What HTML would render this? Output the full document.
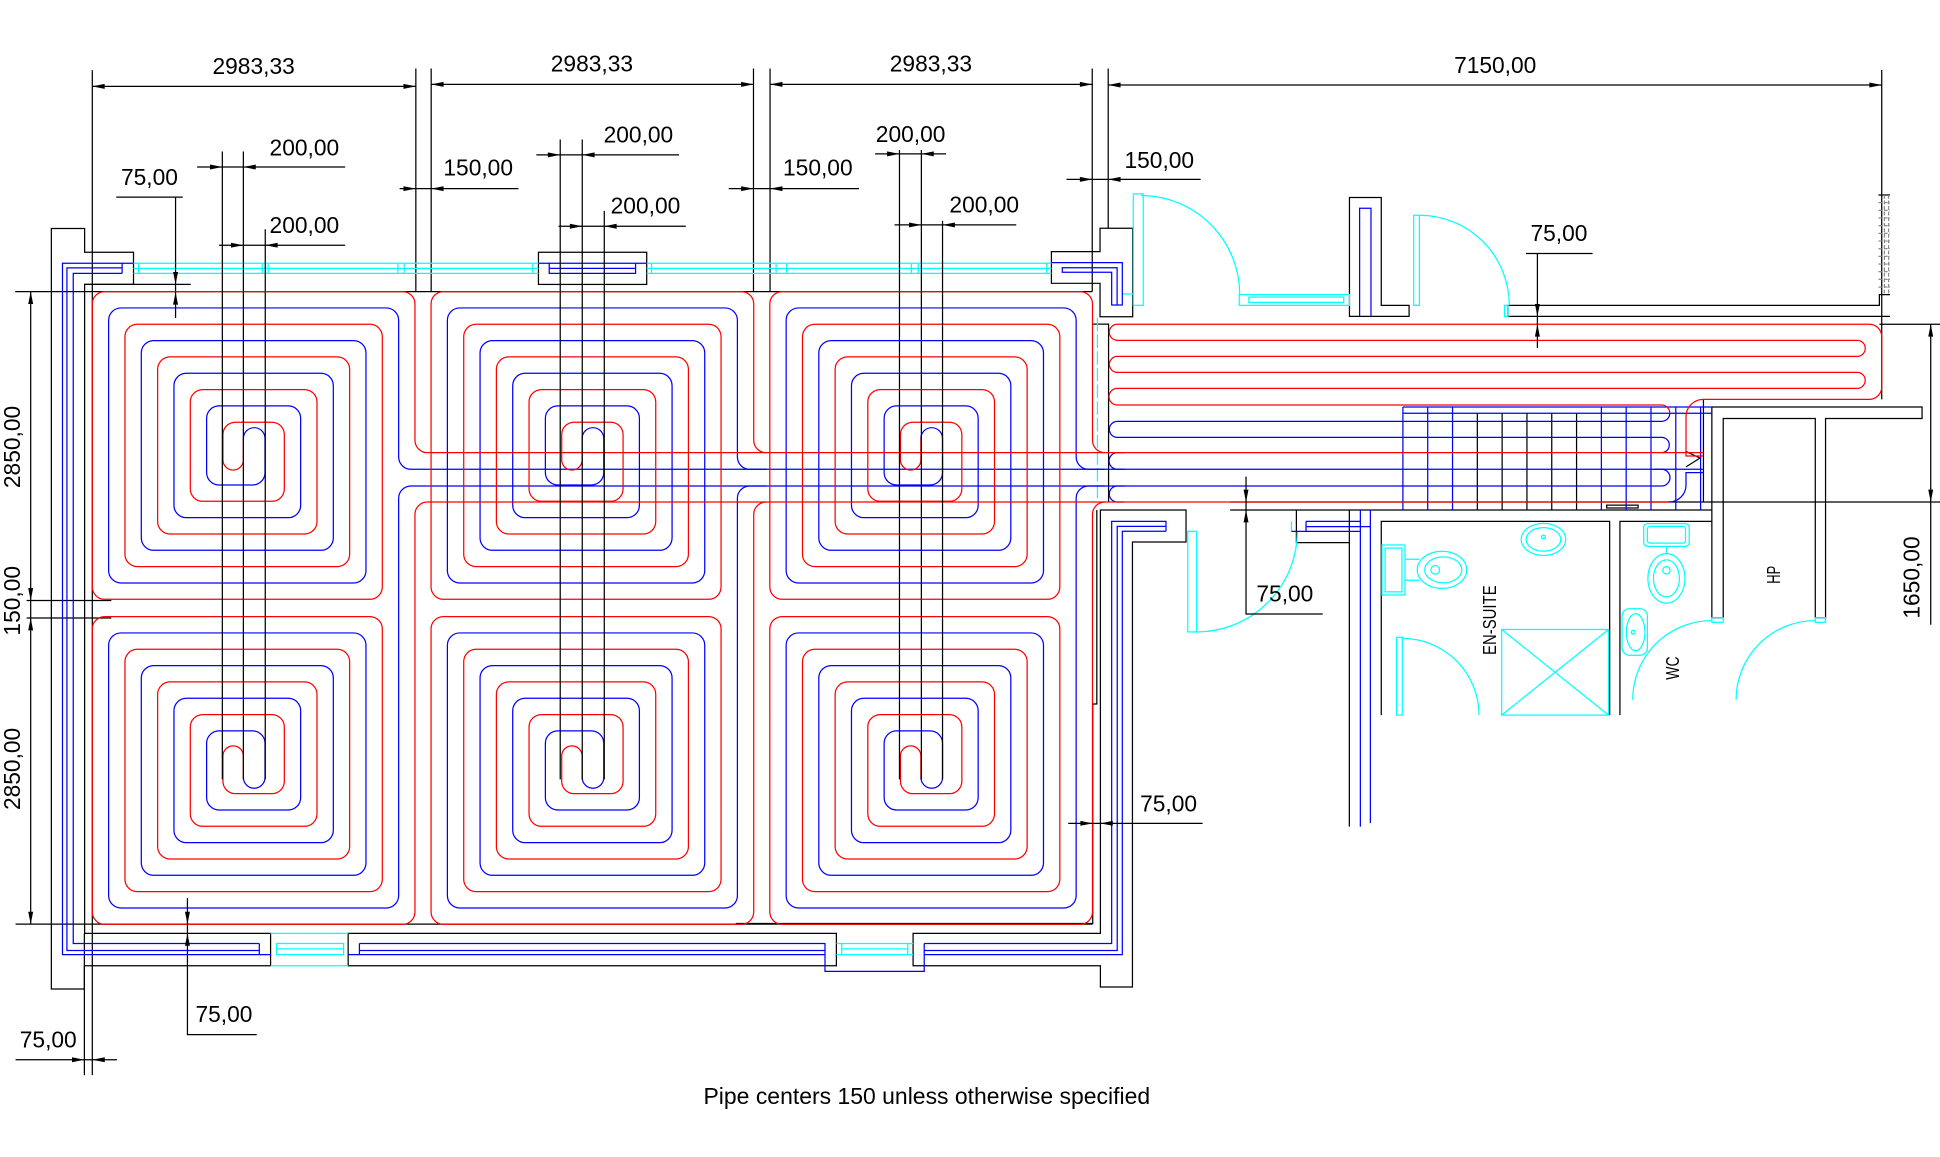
<!DOCTYPE html>
<html><head><meta charset="utf-8"><style>
html,body{margin:0;padding:0;background:#fff;overflow:hidden}
svg{display:block}
text{font-family:"Liberation Sans",Arial,sans-serif;fill:#000}
</style></head><body>
<svg width="1940" height="1157" viewBox="0 0 1568 935.2" preserveAspectRatio="none" xmlns="http://www.w3.org/2000/svg">
<defs>
<path id="tr" d="M270.8 130.2 A10 10 0 0 1 260.8 120.2 L260.8 10 A10 10 0 0 0 250.8 0 L10 0 A10 10 0 0 0 0 10 L0 238.7 A10 10 0 0 0 10 248.7 L224.4 248.7 A10 10 0 0 0 234.4 238.7 L234.4 36.4 A10 10 0 0 0 224.4 26.4 L36.4 26.4 A10 10 0 0 0 26.4 36.4 L26.4 212.3 A10 10 0 0 0 36.4 222.3 L198 222.3 A10 10 0 0 0 208 212.3 L208 62.8 A10 10 0 0 0 198 52.8 L62.8 52.8 A10 10 0 0 0 52.8 62.8 L52.8 185.9 A10 10 0 0 0 62.8 195.9 L171.6 195.9 A10 10 0 0 0 181.6 185.9 L181.6 89.2 A10 10 0 0 0 171.6 79.2 L89.2 79.2 A10 10 0 0 0 79.2 89.2 L79.2 159.5 A10 10 0 0 0 89.2 169.5 L145.2 169.5 A10 10 0 0 0 155.2 159.5 L155.2 115.6 A10 10 0 0 0 145.2 105.6 L115.6 105.6 A10 10 0 0 0 105.6 115.6 L105.6 136 A8.25 8.25 0 0 0 122.1 136 L122.1 118.75"/>
<path id="tb" d="M122.1 118.75 A8.75 8.75 0 0 1 139.6 118.75 L139.6 146.3 A10 10 0 0 1 129.6 156.3 L102.4 156.3 A10 10 0 0 1 92.4 146.3 L92.4 102.4 A10 10 0 0 1 102.4 92.4 L158.4 92.4 A10 10 0 0 1 168.4 102.4 L168.4 172.7 A10 10 0 0 1 158.4 182.7 L76 182.7 A10 10 0 0 1 66 172.7 L66 76 A10 10 0 0 1 76 66 L184.8 66 A10 10 0 0 1 194.8 76 L194.8 199.1 A10 10 0 0 1 184.8 209.1 L49.6 209.1 A10 10 0 0 1 39.6 199.1 L39.6 49.6 A10 10 0 0 1 49.6 39.6 L211.2 39.6 A10 10 0 0 1 221.2 49.6 L221.2 225.5 A10 10 0 0 1 211.2 235.5 L23.2 235.5 A10 10 0 0 1 13.2 225.5 L13.2 23.2 A10 10 0 0 1 23.2 13.2 L237.6 13.2 A10 10 0 0 1 247.6 23.2 L247.6 133.6 A10 10 0 0 0 257.6 143.6 L270.8 143.6"/>
<path id="br" d="M270.8 -92.6 A10 10 0 0 0 260.8 -82.6 L260.8 238.7 A10 10 0 0 1 250.8 248.7 L10 248.7 A10 10 0 0 1 0 238.7 L0 10 A10 10 0 0 1 10 0 L224.4 0 A10 10 0 0 1 234.4 10 L234.4 212.3 A10 10 0 0 1 224.4 222.3 L36.4 222.3 A10 10 0 0 1 26.4 212.3 L26.4 36.4 A10 10 0 0 1 36.4 26.4 L198 26.4 A10 10 0 0 1 208 36.4 L208 185.9 A10 10 0 0 1 198 195.9 L62.8 195.9 A10 10 0 0 1 52.8 185.9 L52.8 62.8 A10 10 0 0 1 62.8 52.8 L171.6 52.8 A10 10 0 0 1 181.6 62.8 L181.6 159.5 A10 10 0 0 1 171.6 169.5 L89.2 169.5 A10 10 0 0 1 79.2 159.5 L79.2 89.2 A10 10 0 0 1 89.2 79.2 L145.2 79.2 A10 10 0 0 1 155.2 89.2 L155.2 133.1 A10 10 0 0 1 145.2 143.1 L115.6 143.1 A10 10 0 0 1 105.6 133.1 L105.6 112.7 A8.25 8.25 0 0 1 122.1 112.7 L122.1 129.95"/>
<path id="bb" d="M122.1 129.95 A8.75 8.75 0 0 0 139.6 129.95 L139.6 102.4 A10 10 0 0 0 129.6 92.4 L102.4 92.4 A10 10 0 0 0 92.4 102.4 L92.4 146.3 A10 10 0 0 0 102.4 156.3 L158.4 156.3 A10 10 0 0 0 168.4 146.3 L168.4 76 A10 10 0 0 0 158.4 66 L76 66 A10 10 0 0 0 66 76 L66 172.7 A10 10 0 0 0 76 182.7 L184.8 182.7 A10 10 0 0 0 194.8 172.7 L194.8 49.6 A10 10 0 0 0 184.8 39.6 L49.6 39.6 A10 10 0 0 0 39.6 49.6 L39.6 199.1 A10 10 0 0 0 49.6 209.1 L211.2 209.1 A10 10 0 0 0 221.2 199.1 L221.2 23.2 A10 10 0 0 0 211.2 13.2 L23.2 13.2 A10 10 0 0 0 13.2 23.2 L13.2 225.5 A10 10 0 0 0 23.2 235.5 L237.6 235.5 A10 10 0 0 0 247.6 225.5 L247.6 -95.6 A10 10 0 0 1 257.6 -105.6 L270.8 -105.6"/>
</defs>

<!-- extension lines (under pipes) -->
<g fill="none" stroke="#000" stroke-width="1">
<path d="M74.6 56.7 V869 M336.1 55.4 V235.7 M348.5 55.4 V235.7 M609 55.4 V235.7 M622.4 55.4 V235.7 M882.8 55.4 V235.7 M895.7 55.4 V184.5 M1520.9 56.6 V322.8"/>
<path d="M12.3 235.7 H882.9 M21.5 485.4 H90 M21.5 499.5 H90 M12.6 747 H883 M68.4 229.9 H154.2 M68.2 754.4 V869"/>
<path d="M994.3 405.8 H1568 M1519 262.1 H1568"/>
</g>

<!-- walls -->
<g fill="none" stroke="#000" stroke-width="1">
<path d="M41.5 799.4 V184.7 H68.4 V203.9 H107.9 V229.9 H68.4 V754.4 H218.7 V780.6 H68.2 V799.4 Z"/>
<rect x="435.2" y="203.9" width="87.5" height="26"/>
<path d="M281.4 754.4 H676 V780.6 H281.4 Z"/>
<path d="M738 780.6 V754.4 H889.4 V412.2 H958.6 V438.1 H915.3 V797.8 H889.4 V780.6 Z"/>
<path d="M849.8 203.4 H889.1 V184.5 H915.5 V256 H889.1 V229 H849.8 Z"/>
<path d="M882.9 262 H896 V406"/>
<path d="M886.5 412.2 V569 H883.2 V746.5 H594.7"/>
<path d="M1090.7 159.6 H1116.4 V246.8 H1138.9 V255.7 H1090.7 Z"/>
<path d="M1218.8 246.8 H1519 V238.1 H1527.6 M1218.8 246.8 V255.7 H1527.6"/>
<path d="M994.3 412.2 H1383.6"/>
<path d="M1047.8 412.2 V438.6 H1090.6 M1090.6 412.2 V668.2"/>
<path d="M1116.4 578 V421.4 H1301 V578 M1309.3 578 V421.4 H1383.6"/>
<path d="M1383.6 329 V499.3 H1392.8 V338.3 H1467.2 V499.3 H1475.5 V338.3 H1553.5 V329 H1383.6"/>
<path d="M1376.8 322.8 V406"/>
<rect x="1298.6" y="408.3" width="25.4" height="2.3"/>
<path d="M1362.7 364.9 L1374 370.3 L1362.7 377.4"/>
<path d="M1518.2 157.6 H1527.6"/>
</g>
<g fill="none" stroke="#808080" stroke-width="0.9" stroke-dasharray="3 1.5">
<path d="M1523 157.6 V237.6 M1526.5 157.6 V237.6"/>
<path d="M1518.2 163.8 H1527.6 M1518.2 170 H1527.6 M1518.2 176.2 H1527.6 M1518.2 182.4 H1527.6 M1518.2 188.6 H1527.6 M1518.2 194.8 H1527.6 M1518.2 201 H1527.6 M1518.2 207.2 H1527.6 M1518.2 213.4 H1527.6 M1518.2 219.6 H1527.6 M1518.2 225.8 H1527.6 M1518.2 232 H1527.6"/>
</g>

<!-- cyan architecture -->
<g fill="none" stroke="#00ffff" stroke-width="1">
<path d="M107.9 212.8 H435.2 M107.9 221 H435.2 M107.9 216.9 H435.2 M522.7 212.8 H849.8 M522.7 221 H849.8 M522.7 216.9 H849.8"/>
<path d="M112 212.8 V221 M212 212.8 V221 M216.7 212.8 V221 M321.6 212.8 V221 M326.7 212.8 V221 M430.6 212.8 V221 M526.6 212.8 V221 M627.3 212.8 V221 M635.8 212.8 V221 M736.6 212.8 V221 M742.2 212.8 V221 M846 212.8 V221"/>
<path d="M218.7 754.4 H281.4 M218.7 780.6 H281.4 M223.5 767 H277.7"/>
<rect x="223.5" y="762.6" width="54.2" height="9"/>
<path d="M676 762.6 H738 M676 771.6 H738 M680.3 767 H733.7 M680.3 762.6 V771.6 M733.7 762.6 V771.6"/>
<rect x="916" y="156.7" width="8" height="90.1"/>
<path d="M907.1 237.6 H916"/>
<path d="M922 158 A80 80 0 0 1 1002 238"/>
<rect x="1001.6" y="238.1" width="89.1" height="8.7"/>
<rect x="1009.4" y="240.1" width="76.7" height="4.3"/>
<rect x="1142.6" y="174" width="4.6" height="72.8"/>
<path d="M1147.2 174 A72.7 72.7 0 0 1 1219.9 246.7"/>
<rect x="1216" y="246.8" width="2.8" height="8.9"/>
<rect x="960" y="429.4" width="7.2" height="81.4"/>
<path d="M967.2 510.8 A81.4 81.4 0 0 0 1048.6 429.4"/>
<path d="M1043.8 421.4 V429.5"/>
<path d="M887 256.9 V403" stroke-dasharray="10.8 2.7"/>
<rect x="1117" y="440.5" width="18.6" height="40.4"/>
<rect x="1119.5" y="443" width="13.6" height="35.4"/>
<path d="M1135.6 452 H1147 M1135.6 469 H1147"/>
<ellipse cx="1165.5" cy="460.6" rx="20" ry="15"/>
<ellipse cx="1166.5" cy="460.6" rx="15" ry="10.5"/>
<circle cx="1160" cy="460.6" r="3.5"/>
<ellipse cx="1247.5" cy="436" rx="18" ry="13"/>
<ellipse cx="1247.5" cy="436" rx="14" ry="9.5"/>
<circle cx="1247.5" cy="434" r="1.5"/>
<rect x="1213.7" y="508.8" width="86.4" height="69.2"/>
<path d="M1213.7 508.8 L1300.1 578 M1300.1 508.8 L1213.7 578"/>
<rect x="1128.8" y="515.1" width="4.6" height="62.9"/>
<path d="M1133.4 516 A62 62 0 0 1 1195.4 578"/>
<rect x="1328.5" y="423.2" width="36.8" height="18.4" rx="3"/>
<rect x="1331.5" y="425.5" width="30.8" height="13.5" rx="2"/>
<path d="M1346.9 441.6 V447.5"/>
<ellipse cx="1346.9" cy="467.5" rx="15" ry="20"/>
<ellipse cx="1346.9" cy="467.5" rx="10.5" ry="15"/>
<circle cx="1346.9" cy="461" r="3"/>
<rect x="1311" y="492" width="20.5" height="37.6" rx="6"/>
<ellipse cx="1322" cy="511" rx="7.5" ry="15"/>
<circle cx="1320" cy="511" r="1.5"/>
<path d="M1319.6 565.6 A64 64 0 0 1 1383.6 501.6"/>
<rect x="1383.6" y="499.3" width="9.2" height="3.7"/>
<path d="M1403.2 565.6 A64 64 0 0 1 1467.2 501.6"/>
<rect x="1467.2" y="499.3" width="8.3" height="3.7"/>
</g>

<!-- blue wall pipes -->
<g fill="none" stroke="#0000ff" stroke-width="1">
<path d="M107.9 212.8 H50.5 V771.6 H218.7 M98.7 216.5 H54.1 V768.3 H209.6 M98.7 221 H59.2 V762.6 H209.6 M98.7 212.8 V221 M209.6 762.6 V771.6"/>
<path d="M281.4 771.6 H666.8 V785.2 H747 V771.6 H907.1 V429.4 H942.4 M290.5 768.3 H666.8 M747 768.3 H903 V425.5 H942.4 M290.5 762.6 H666.8 V771.6 M747 762.6 H898.5 V421.4 H942.4 V429.4 M290.5 762.6 V771.6 M747 762.6 V771.6"/>
<path d="M850 212.3 H907.1 V246.5 H898.5 V220.1 H858.6 V216.4 H902.9 V246.5"/>
<path d="M435.2 212.8 H522.7 M443.9 212.8 V221 H513.7 V212.8 M443.9 216.9 H513.7"/>
<path d="M1098.9 255.7 V168.3 H1108.1 V255.7"/>
<path d="M1055.6 421.4 H1099.5 M1055.6 425.7 H1107.6 M1043.8 429.5 H1099.5 M1055.6 421.4 V429.5 M1099.5 412.2 V668.2 M1107.6 412.2 V665.3"/>
<path d="M1133.9 329 H1383.6 M1133.9 334 H1383.6"/>
<path d="M1133.9 329 V412.2 M1153.95 329 V412.2 M1174 329 V412.2 M1294.3 329 V412.2 M1314.35 329 V412.2 M1334.4 329 V412.2 M1354.45 329 V412.2 M1374.5 329 V412.2"/>
</g>
<g fill="none" stroke="#000" stroke-width="1">
<path d="M1194.05 334 V412.2 M1214.1 334 V412.2 M1234.15 334 V412.2 M1254.2 334 V412.2 M1274.25 334 V412.2"/>
</g>

<!-- heating circuits -->
<g fill="none" stroke-width="1">
<g stroke="#0000ff">
<use href="#tb" transform="translate(74.6,235.7)"/>
<use href="#tb" transform="translate(348.4,235.7)"/>
<use href="#tb" transform="translate(622.2,235.7)"/>
<use href="#bb" transform="translate(74.6,498.4)"/>
<use href="#bb" transform="translate(348.4,498.4)"/>
<use href="#bb" transform="translate(622.2,498.4)"/>
<path d="M345.4 379.3 H1376.8 M345.4 392.8 H1343"/>
<path d="M1376.8 382 H1362.7 V392 A13.8 13.8 0 0 1 1348.9 405.8"/>
<path d="M1349.6 334 A6.6 6.6 0 0 1 1343 340.6 H903.1 A6.45 6.45 0 0 0 903.1 353.5 H1343 A6.2 6.2 0 0 1 1343 365.9"/>
<path d="M909 365.9 H903.1 A6.7 6.7 0 0 0 903.1 379.3 H909 M1337 379.3 H1343 A6.75 6.75 0 0 1 1343 392.8 M909 392.8 H903.1 A6.5 6.5 0 0 0 903.1 405.8 H909"/>
</g>
<g stroke="#ff0000">
<use href="#tr" transform="translate(74.6,235.7)"/>
<use href="#tr" transform="translate(348.4,235.7)"/>
<use href="#tr" transform="translate(622.2,235.7)"/>
<use href="#br" transform="translate(74.6,498.4)"/>
<use href="#br" transform="translate(348.4,498.4)"/>
<use href="#br" transform="translate(622.2,498.4)"/>
<path d="M345.4 365.9 H1376.8 M345.4 405.8 H1348.7"/>
<path d="M1376.8 368.6 H1362.7 V336.8 A14 14 0 0 1 1376.7 322.8 H1510.9 A10 10 0 0 0 1520.9 312.8 V272.1 A10 10 0 0 0 1510.9 262.1 H903.1 A6.5 6.5 0 0 0 903.1 275.1 H1501.1 A6.5 6.5 0 0 1 1501.1 288.1 H903.1 A6.45 6.45 0 0 0 903.1 301 H1501.1 A6.45 6.45 0 0 1 1501.1 313.9 H903.1 A6.75 6.75 0 0 0 903.1 327.4 H1343 A6.6 6.6 0 0 1 1349.6 334"/>
</g>
</g>

<!-- dimension lines -->
<g fill="none" stroke="#000" stroke-width="1">
<path d="M74.6 69.8 H336.1 M348.5 68.2 H609 M622.4 68.2 H882.8 M895.7 68.7 H1520.9"/>
<path d="M323 152.5 H419 M589 152.5 H694.3 M862 145 H970.4"/>
<path d="M159.3 135 H279 M177 198.2 H279 M433.5 125.2 H548.8 M451.4 182.9 H554.3 M707.3 124.4 H764.6 M723 181.8 H821.4"/>
<path d="M179.7 122.5 V630 M196.7 122.5 V630 M214.4 185.3 V630 M452.8 112.8 V630 M470.6 112.8 V630 M488.4 170.5 V630 M727 121.2 V630 M744.7 121.2 V630 M761.8 178.5 V630"/>
<path d="M94 159.3 H147.7 M141.9 159.3 V257"/>
<path d="M24.8 235.7 V747"/>
<path d="M151.5 726 V836.3 H207.5"/>
<path d="M12.6 856.6 H94.5"/>
<path d="M863.4 665.5 H972"/>
<path d="M1007.1 385.3 V496.3 H1069.1"/>
<path d="M1233.4 204.9 H1287.2 M1242.6 204.9 V281.3"/>
<path d="M1560.5 262.1 V505"/>
</g>
<g fill="#000" stroke="none">
<polygon points="74.6,69.8 84.6,67.8 84.6,71.8"/><polygon points="336.1,69.8 326.1,67.8 326.1,71.8"/>
<polygon points="348.5,68.2 358.5,66.2 358.5,70.2"/><polygon points="609,68.2 599,66.2 599,70.2"/>
<polygon points="622.4,68.2 632.4,66.2 632.4,70.2"/><polygon points="882.8,68.2 872.8,66.2 872.8,70.2"/>
<polygon points="895.7,68.7 905.7,66.7 905.7,70.7"/><polygon points="1520.9,68.7 1510.9,66.7 1510.9,70.7"/>
<polygon points="336.1,152.5 326.1,150.5 326.1,154.5"/><polygon points="348.5,152.5 358.5,150.5 358.5,154.5"/>
<polygon points="609,152.5 599,150.5 599,154.5"/><polygon points="622.4,152.5 632.4,150.5 632.4,154.5"/>
<polygon points="882.8,145 872.8,143 872.8,147"/><polygon points="895.7,145 905.7,143 905.7,147"/>
<polygon points="179.7,135 169.7,133 169.7,137"/><polygon points="196.7,135 206.7,133 206.7,137"/>
<polygon points="196.7,198.2 186.7,196.2 186.7,200.2"/><polygon points="214.4,198.2 224.4,196.2 224.4,200.2"/>
<polygon points="452.8,125.2 442.8,123.2 442.8,127.2"/><polygon points="470.6,125.2 480.6,123.2 480.6,127.2"/>
<polygon points="470.6,182.9 460.6,180.9 460.6,184.9"/><polygon points="488.4,182.9 498.4,180.9 498.4,184.9"/>
<polygon points="727,124.4 717,122.4 717,126.4"/><polygon points="744.7,124.4 754.7,122.4 754.7,126.4"/>
<polygon points="744.7,181.8 734.7,179.8 734.7,183.8"/><polygon points="761.8,181.8 771.8,179.8 771.8,183.8"/>
<polygon points="141.9,229.9 139.9,219.9 143.9,219.9"/><polygon points="141.9,236.2 139.9,246.2 143.9,246.2"/>
<polygon points="151.5,747 149.5,737 153.5,737"/><polygon points="151.5,754.4 149.5,764.4 153.5,764.4"/>
<polygon points="68.2,856.6 58.2,854.6 58.2,858.6"/><polygon points="74.7,856.6 84.7,854.6 84.7,858.6"/>
<polygon points="883.2,665.5 873.2,663.5 873.2,667.5"/><polygon points="889.4,665.5 899.4,663.5 899.4,667.5"/>
<polygon points="1007.1,405.8 1005.1,395.8 1009.1,395.8"/><polygon points="1007.1,412.2 1005.1,422.2 1009.1,422.2"/>
<polygon points="1242.6,255.7 1240.6,245.7 1244.6,245.7"/><polygon points="1242.6,262.1 1240.6,272.1 1244.6,272.1"/>
<polygon points="24.8,235.7 22.8,245.7 26.8,245.7"/><polygon points="24.8,485.4 22.8,475.4 26.8,475.4"/>
<polygon points="24.8,499.5 22.8,509.5 26.8,509.5"/><polygon points="24.8,747 22.8,737 26.8,737"/>
<polygon points="1560.5,262.1 1558.5,272.1 1562.5,272.1"/><polygon points="1560.5,405.8 1558.5,395.8 1562.5,395.8"/>
</g>

<!-- texts -->
<g font-size="18.4" text-anchor="middle">
<text x="205" y="60">2983,33</text>
<text x="478.4" y="58">2983,33</text>
<text x="752.4" y="58">2983,33</text>
<text x="1208.5" y="59">7150,00</text>
<text x="246" y="125.8">200,00</text>
<text x="246" y="188.5">200,00</text>
<text x="516" y="115">200,00</text>
<text x="521.7" y="172.6">200,00</text>
<text x="736" y="114.8">200,00</text>
<text x="795.5" y="171.8">200,00</text>
<text x="120.8" y="149.6">75,00</text>
<text x="386.5" y="142">150,00</text>
<text x="661" y="142">150,00</text>
<text x="937" y="135.7">150,00</text>
<text x="1260" y="194.8">75,00</text>
<text x="1038.5" y="486.3">75,00</text>
<text x="944.5" y="656">75,00</text>
<text x="181" y="826">75,00</text>
<text x="39" y="846.7">75,00</text>
<text transform="translate(16.2,361.3) rotate(-90)">2850,00</text>
<text transform="translate(16.2,485.6) rotate(-90)">150,00</text>
<text transform="translate(16.2,621.5) rotate(-90)">2850,00</text>
<text transform="translate(1551.3,466.8) rotate(-90)">1650,00</text>
</g>
<g font-size="15" text-anchor="middle">
<text transform="translate(1209.1,501.3) rotate(-90)" textLength="56.3" lengthAdjust="spacingAndGlyphs">EN-SUITE</text>
<text transform="translate(1438.8,464.6) rotate(-90)" textLength="14.5" lengthAdjust="spacingAndGlyphs">HP</text>
<text transform="translate(1357.2,540) rotate(-90)" textLength="18.8" lengthAdjust="spacingAndGlyphs">WC</text>
</g>
<text x="568.6" y="892.5" font-size="18.5" textLength="361" lengthAdjust="spacingAndGlyphs">Pipe centers 150 unless otherwise specified</text>
</svg>
</body></html>
